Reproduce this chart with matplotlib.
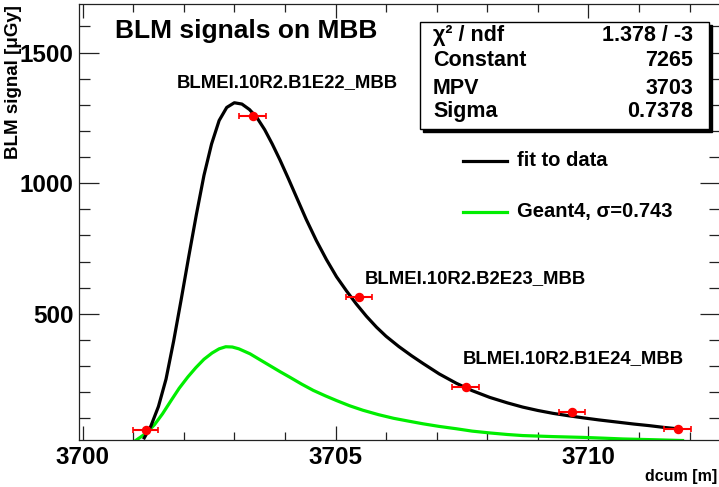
"""
BLM signals on MBB: Landau fit to data vs Geant4.
"""

import matplotlib
matplotlib.use("Agg")
import matplotlib.pyplot as plt
from matplotlib.patches import Rectangle
from matplotlib.lines import Line2D

# Data: measured BLM signals
blm_x = [3701.25, 3703.36, 3705.47, 3707.57, 3709.68, 3711.76]
blm_y = [57, 1259, 564, 219, 123, 58]
blm_xerr = [0.25, 0.26, 0.26, 0.26, 0.26, 0.26]

# Fit curve
fit_x = [3701.22, 3701.35, 3701.50, 3701.65, 3701.80, 3701.95, 3702.10, 3702.25,
         3702.40, 3702.55, 3702.70, 3702.85, 3703.00, 3703.15, 3703.30, 3703.45,
         3703.60, 3703.75, 3703.90, 3704.07, 3704.23, 3704.42, 3704.62, 3704.82,
         3705.02, 3705.22, 3705.41, 3705.61, 3705.81, 3706.00, 3706.25, 3706.50,
         3706.73, 3707.05, 3707.39, 3707.70, 3708.05, 3708.40, 3708.70, 3709.00,
         3709.30, 3709.60, 3709.89, 3710.20, 3710.55, 3710.90, 3711.20, 3711.50,
         3711.76]
fit_y = [25, 70, 145, 250, 395, 555, 720, 880,
         1030, 1150, 1240, 1290, 1308, 1303, 1282, 1250,
         1205, 1150, 1090, 1017, 946, 862, 781, 708,
         642, 587, 538, 491, 449, 414, 375, 340,
         310, 270, 234, 206, 180, 159, 143, 130,
         119, 110, 102, 94, 86, 78, 72, 65,
         60]

# Geant4 curve
g4_x = [3701.05, 3701.25, 3701.42, 3701.58, 3701.75, 3701.91, 3702.08, 3702.24,
        3702.40, 3702.56, 3702.70, 3702.83, 3702.96, 3703.09, 3703.31, 3703.50,
        3703.70, 3703.90, 3704.10, 3704.33, 3704.56, 3704.80, 3705.02, 3705.28,
        3705.54, 3705.85, 3706.15, 3706.45, 3706.73, 3707.05, 3707.39, 3707.70,
        3708.05, 3708.40, 3708.70, 3709.30, 3709.89, 3710.30, 3710.68, 3711.30,
        3711.86]
g4_y = [15, 42, 75, 117, 168, 215, 258, 294,
        326, 350, 366, 374, 373, 366, 347, 325,
        302, 279, 257, 231, 207, 186, 168, 148,
        131, 114, 100, 89, 79, 69, 60, 51,
        44, 38, 34, 30, 27, 24, 21, 18,
        15]

monitors = ["BLMEI.10R2.B1E22_MBB", "BLMEI.10R2.B2E23_MBB", "BLMEI.10R2.B1E24_MBB"]
stat_names = ["\u03c7\u00b2 / ndf", "Constant", "MPV", "Sigma"]
stat_values = ["1.378 / -3", "7265", "3703", "0.7378"]
legend_labels = ["fit to data", "Geant4, \u03c3=0.743"]

W, H = 719, 487
FONT = ["Liberation Sans", "DejaVu Sans"]
GREEN = "#00ee00"
plt.rcParams["font.family"] = FONT
plt.rcParams["font.weight"] = "bold"


def fx(px):
    return px / W


def fy(py):
    return 1 - py / H


fig = plt.figure(figsize=(W / 100, H / 100), dpi=100)
ax = fig.add_axes([fx(79), fy(440), fx(720) - fx(79), fy(4) - fy(440)])

ax.plot(fit_x, fit_y, color="black", lw=2.3, solid_joinstyle="round", zorder=3)
ax.plot(g4_x, g4_y, color=GREEN, lw=2.3, solid_joinstyle="round", zorder=2)
ax.errorbar(blm_x, blm_y, xerr=blm_xerr, fmt="o", color="red", ms=5.8,
            elinewidth=1.5, capsize=2.5, capthick=1.2, zorder=4)

ax.set_xlim(3699.93, 3712.6)
ax.set_ylim(17, 1686)
ax.set_xticks([3700, 3705, 3710])
ax.set_xticks(range(3700, 3713), minor=True)
ax.set_yticks([500, 1000, 1500])
ax.set_yticks(range(100, 1700, 100), minor=True)

for s in ax.spines.values():
    s.set_color("#222222")
    s.set_linewidth(0.9)
ax.tick_params(axis="both", which="both", direction="in", top=True, right=True,
               color="#222222", width=0.9)
ax.tick_params(axis="x", which="major", length=10, pad=4, labelsize=17.5)
ax.tick_params(axis="x", which="minor", length=5.5)
ax.tick_params(axis="y", which="major", length=14.5, pad=4, labelsize=17.5)
ax.tick_params(axis="y", which="minor", length=8)
for lab in ax.get_xticklabels() + ax.get_yticklabels():
    lab.set_fontweight("bold")

fig.text(fx(22), fy(5), "BLM signal [\u03bcGy]", rotation=90, ha="right", va="top",
         fontsize=13.5, fontweight="bold")
fig.text(fx(717), fy(481), "dcum [m]", ha="right", va="baseline",
         fontsize=11.5, fontweight="bold")

fig.text(fx(115), fy(38), "BLM signals on MBB", ha="left", va="baseline",
         fontsize=19, fontweight="bold")
fig.text(fx(177), fy(87), monitors[0], ha="left", va="baseline", fontsize=13.3, fontweight="bold")
fig.text(fx(365), fy(283), monitors[1], ha="left", va="baseline", fontsize=13.3, fontweight="bold")
fig.text(fx(463), fy(363), monitors[2], ha="left", va="baseline", fontsize=13.3, fontweight="bold")

# Stats box with shadow
fig.patches.append(Rectangle((fx(423), fy(132)), fx(709) - fx(420), fy(22) - fy(129),
                             transform=fig.transFigure, facecolor="black",
                             edgecolor="black", zorder=5))
fig.patches.append(Rectangle((fx(420), fy(129)), fx(709) - fx(420), fy(22) - fy(129),
                             transform=fig.transFigure, facecolor="white",
                             edgecolor="black", lw=1.0, zorder=6))
for i, (name, val) in enumerate(zip(stat_names, stat_values)):
    base = [41, 66, 94, 117][i]
    fig.text(fx(433), fy(base), name, ha="left", va="baseline", fontsize=15.5,
             fontweight="bold", zorder=7)
    fig.text(fx(693), fy(base), val, ha="right", va="baseline", fontsize=15.5,
             fontweight="bold", zorder=7)

# Legend
for i, (lab, col) in enumerate(zip(legend_labels, ["black", GREEN])):
    yy = [161, 212][i]
    fig.add_artist(Line2D([fx(463), fx(507)], [fy(yy), fy(yy)], color=col, lw=2.3))
    fig.text(fx(517), fy(yy), lab, ha="left", va="center", fontsize=14.5,
             fontweight="bold")

fig.savefig("out.png", dpi=100)
